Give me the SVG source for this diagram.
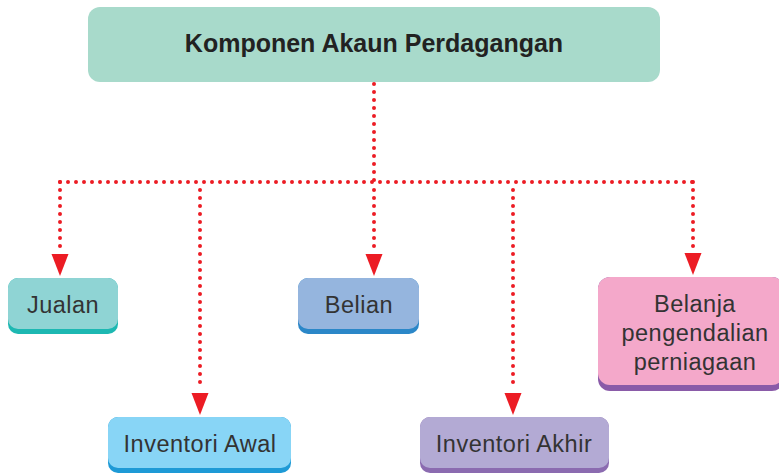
<svg xmlns="http://www.w3.org/2000/svg" width="779" height="473" viewBox="0 0 779 473">
<style>
.lbl{font-family:"Liberation Sans",Arial,sans-serif;font-size:23.5px;letter-spacing:0.5px;fill:#333;text-anchor:middle}
.ttl{font-family:"Liberation Sans",Arial,sans-serif;font-size:25px;font-weight:bold;fill:#222;text-anchor:middle}
.dot{fill:none;stroke:#ec1c24;stroke-width:4;stroke-linecap:round;stroke-dasharray:0 8}
.ah{fill:#ec1c24}
</style>
<rect width="779" height="473" fill="#fff"/>
<g id="connectors">
<path class="dot" d="M374 84 V182"/>
<path class="dot" d="M60 182 H693"/>
<path class="dot" d="M60 182 V252"/>
<path class="dot" d="M200 190 V390"/>
<path class="dot" d="M374 190 V252"/>
<path class="dot" d="M513 190 V390"/>
<path class="dot" d="M693 182 V252"/>
<polygon class="ah" points="51.5,254 68.5,254 60,276"/>
<polygon class="ah" points="365.5,254 382.5,254 374,276"/>
<polygon class="ah" points="684.5,253 701.5,253 693,275"/>
<polygon class="ah" points="191.5,393 208.5,393 200,415"/>
<polygon class="ah" points="504.5,393 521.5,393 513,415"/>
</g>
<g id="title">
<rect x="88" y="7" width="572" height="75" rx="12" fill="#a8dacb"/>
<text class="ttl" x="374" y="52">Komponen Akaun Perdagangan</text>
</g>
<g id="jualan">
<rect x="8" y="278" width="110" height="56" rx="10" fill="#1db8b2"/>
<rect x="8" y="278" width="110" height="51" rx="10" fill="#8fd4d4"/>
<text class="lbl" x="63" y="313">Jualan</text>
</g>
<g id="belian">
<rect x="298" y="278" width="121" height="56" rx="10" fill="#2b87c8"/>
<rect x="298" y="278" width="121" height="51" rx="10" fill="#95b5de"/>
<text class="lbl" x="359" y="313">Belian</text>
</g>
<g id="belanja">
<rect x="598" y="277" width="186" height="114" rx="12" fill="#8a5ba8"/>
<rect x="598" y="277" width="186" height="108" rx="12" fill="#f4a8ca"/>
<text class="lbl" x="695" y="312">Belanja</text>
<text class="lbl" x="695" y="341">pengendalian</text>
<text class="lbl" x="695" y="370">perniagaan</text>
</g>
<g id="inventori-awal">
<rect x="108" y="417" width="183" height="56" rx="10" fill="#1e9ad6"/>
<rect x="108" y="417" width="183" height="51" rx="10" fill="#88d5f6"/>
<text class="lbl" x="200" y="452">Inventori Awal</text>
</g>
<g id="inventori-akhir">
<rect x="420" y="417" width="189" height="56" rx="10" fill="#8b6bb0"/>
<rect x="420" y="417" width="189" height="51" rx="10" fill="#b3aad4"/>
<text class="lbl" x="514" y="452">Inventori Akhir</text>
</g>
</svg>
